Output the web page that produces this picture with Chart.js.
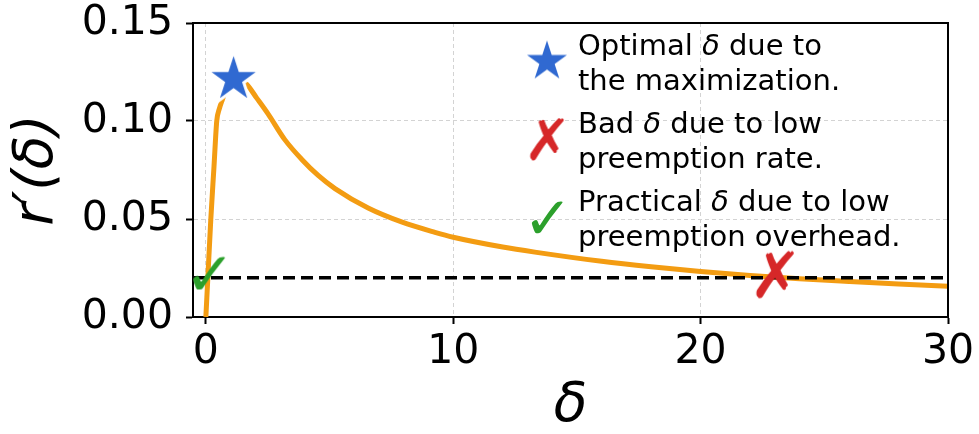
<!DOCTYPE html>
<html>
<head>
<meta charset="utf-8">
<script src="https://cdn.jsdelivr.net/npm/chart.js@4.4.0/dist/chart.umd.min.js"></script>
<style>
  html, body { margin: 0; padding: 0; background: #fff; }
  #wrap { width: 979px; height: 434px; }
</style>
</head>
<body>
<div id="wrap"><canvas id="chart" width="979" height="434"></canvas></div>
<script>
// values
const curveX = [0.0, 0.08, 0.2, 0.33, 0.44, 0.54, 0.67, 0.85, 1.12, 1.4, 1.65, 2.05, 2.52, 3.19, 3.87, 4.54, 5.22, 6.56, 7.91, 9.26, 10.0, 12, 13.3, 16, 18, 20, 22, 24, 26, 28, 30];
const curveY = [0.0, 0.02, 0.05, 0.077, 0.10, 0.106, 0.111, 0.117, 0.1213, 0.1205, 0.1187, 0.1118, 0.1035, 0.0905, 0.0805, 0.0722, 0.0655, 0.0556, 0.0485, 0.0432, 0.0407, 0.0357, 0.0331, 0.0284, 0.0256, 0.0232, 0.0212, 0.0195, 0.0181, 0.0168, 0.0157];
const thresholdY = 0.02;
const optimalPoint = [1.12, 0.1213];
const badPoint = [23.0, 0.0216];
const practicalPoint = [0.13, 0.0222];
const xTicks = [0, 10, 20, 30];
const yTicks = [0, 0.05, 0.10, 0.15];
const legendLabels = [
  ["Optimal δ due to", "the maximization."],
  ["Bad δ due to low", "preemption rate."],
  ["Practical δ due to low", "preemption overhead."]
];

const FONT = '"DejaVu Sans", sans-serif';

function starImage(R, fill) {
  const c = document.createElement('canvas');
  const s = Math.ceil(2 * R + 10);
  c.width = s; c.height = s;
  const ctx = c.getContext('2d');
  const r = R * 0.381966;
  ctx.translate(s / 2, s / 2);
  ctx.beginPath();
  for (let i = 0; i < 10; i++) {
    const a = -Math.PI / 2 + i * Math.PI / 5;
    const rr = i % 2 === 0 ? R : r;
    ctx.lineTo(rr * Math.cos(a), rr * Math.sin(a));
  }
  ctx.closePath();
  ctx.strokeStyle = '#fff';
  ctx.lineWidth = 6;
  ctx.stroke();
  ctx.fillStyle = fill;
  ctx.fill();
  return c;
}

function glyphImage(ch, targetH, color) {
  const m = document.createElement('canvas').getContext('2d');
  m.font = '100px ' + FONT;
  const t = m.measureText(ch);
  const size = 100 * targetH / (t.actualBoundingBoxAscent + t.actualBoundingBoxDescent);
  const c = document.createElement('canvas');
  let ctx = c.getContext('2d');
  ctx.font = size + 'px ' + FONT;
  const mt = ctx.measureText(ch);
  c.width = Math.ceil(mt.actualBoundingBoxLeft + mt.actualBoundingBoxRight) + 4;
  c.height = Math.ceil(mt.actualBoundingBoxAscent + mt.actualBoundingBoxDescent) + 4;
  ctx = c.getContext('2d');
  ctx.font = size + 'px ' + FONT;
  ctx.fillStyle = color;
  ctx.fillText(ch, 2 + mt.actualBoundingBoxLeft, 2 + mt.actualBoundingBoxAscent);
  return c;
}

const BLUE = '#3069d1', RED = '#d62728', GREEN = '#2ca02c', ORANGE = '#f39c12';

const starPlot = starImage(23.2, BLUE);
const crossPlot = glyphImage('✗', 48, RED);
const checkPlot = glyphImage('✓', 33, GREEN);
const legendMarks = [starImage(21, BLUE), glyphImage('✗', 43, RED), glyphImage('✓', 32, GREEN)];

function drawRich(ctx, text, x, y, size) {
  const parts = text.split('δ');
  let cx = x;
  parts.forEach((p, i) => {
    ctx.font = size + 'px ' + FONT;
    ctx.fillText(p, cx, y);
    cx += ctx.measureText(p).width;
    if (i < parts.length - 1) {
      ctx.font = 'italic ' + size + 'px ' + FONT;
      ctx.fillText('δ', cx, y);
      cx += ctx.measureText('δ').width;
    }
  });
}

const extras = {
  id: 'extras',
  afterDatasetsDraw(chart) {
    const { ctx, chartArea: a } = chart;
    ctx.save();
    ctx.strokeStyle = '#000';
    ctx.lineWidth = 2;
    ctx.beginPath();
    ctx.moveTo(a.left, a.top);
    ctx.lineTo(a.right, a.top);
    ctx.lineTo(a.right, a.bottom);
    ctx.stroke();
    ctx.restore();
  },
  afterDraw(chart) {
    const ctx = chart.ctx;
    ctx.save();
    ctx.fillStyle = '#000';
    ctx.textBaseline = 'alphabetic';
    legendLabels.forEach((lines, i) => {
      const base = 55 + i * 78;
      const img = legendMarks[i];
      ctx.drawImage(img, 547 - img.width / 2, base + 6.5 - img.height / 2);
      lines.forEach((ln, j) => drawRich(ctx, ln, 578, base + j * 35, 29));
    });
    ctx.restore();
  }
};

const curve = curveX.map((x, i) => ({ x: x, y: curveY[i] }));

new Chart(document.getElementById('chart'), {
  type: 'scatter',
  data: {
    datasets: [
      { data: [{ x: optimalPoint[0], y: optimalPoint[1] }], pointStyle: starPlot, pointRadius: 22, clip: false, order: 1 },
      { data: [{ x: badPoint[0], y: badPoint[1] }], pointStyle: crossPlot, pointRadius: 22, clip: false, order: 2 },
      { data: [{ x: practicalPoint[0], y: practicalPoint[1] }], pointStyle: checkPlot, pointRadius: 16, clip: false, order: 3 },
      { data: [{ x: -0.52, y: thresholdY }, { x: 30, y: thresholdY }], showLine: true, borderColor: '#000', borderWidth: 3.5, borderDash: [12, 6], pointRadius: 0, order: 4 },
      { data: curve, showLine: true, borderColor: ORANGE, borderWidth: 5, pointRadius: 0, cubicInterpolationMode: 'monotone', order: 5 }
    ]
  },
  options: {
    responsive: false,
    animation: false,
    devicePixelRatio: 1,
    layout: { padding: { left: 0, top: 20, right: 31, bottom: 0 } },
    plugins: { legend: { display: false }, tooltip: { enabled: false } },
    scales: {
      x: {
        type: 'linear',
        min: -0.52,
        max: 30,
        afterBuildTicks: s => { s.ticks = xTicks.map(v => ({ value: v })); },
        afterFit: s => { s.height = 117; s.paddingLeft = 0; s.paddingRight = 0; },
        ticks: { font: { family: FONT, size: 41, lineHeight: 1 }, color: '#000', padding: 8, maxRotation: 0, callback: v => String(v) },
        grid: { color: '#d3d3d3', lineWidth: 1, tickColor: '#000', tickWidth: 2, tickLength: 7, tickBorderDash: [] },
        border: { color: '#000', width: 2, dash: [4, 3] },
        title: { display: true, text: 'δ', color: '#000', font: { family: FONT, size: 55, style: 'italic', lineHeight: 1 }, padding: { top: 0, bottom: 0 } }
      },
      y: {
        type: 'linear',
        min: 0,
        max: 0.15,
        afterBuildTicks: s => { s.ticks = yTicks.map(v => ({ value: v })); },
        afterFit: s => { s.width = 193; s.paddingTop = 0; s.paddingBottom = 0; },
        ticks: { font: { family: FONT, size: 41, lineHeight: 1 }, color: '#000', padding: 13, callback: v => v.toFixed(2) },
        grid: { color: '#d3d3d3', lineWidth: 1, tickColor: '#000', tickWidth: 2, tickLength: 7, tickBorderDash: [] },
        border: { color: '#000', width: 2, dash: [4, 3] },
        title: { display: true, text: 'r′(δ)', color: '#000', font: { family: FONT, size: 55, style: 'italic', lineHeight: 1 }, padding: { top: 10, bottom: 0 } }
      }
    }
  },
  plugins: [extras]
});
</script>
</body>
</html>
